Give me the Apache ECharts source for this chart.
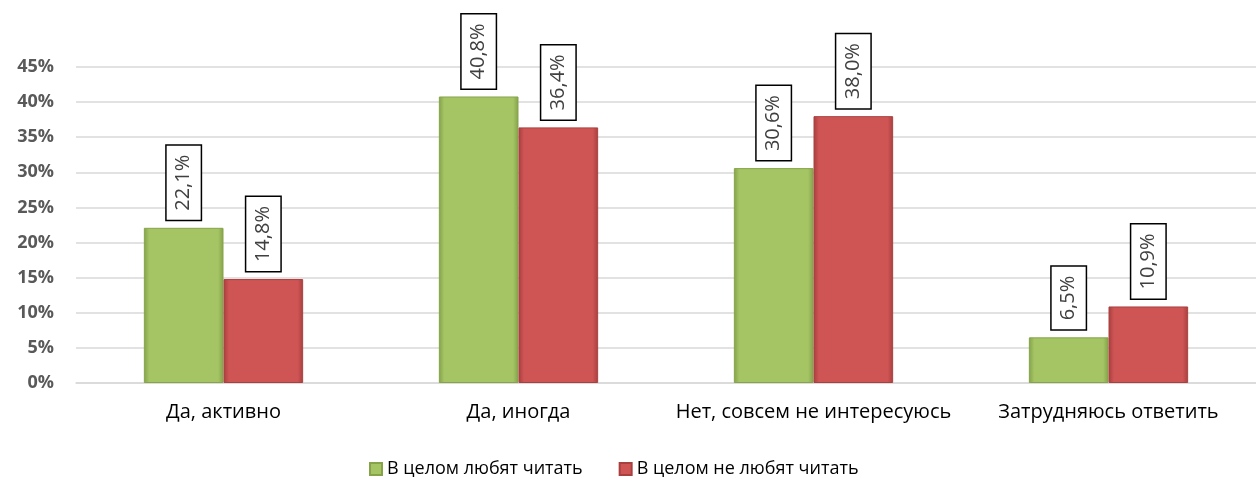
<!DOCTYPE html>
<html><head><meta charset="utf-8">
<script src="https://cdn.jsdelivr.net/npm/echarts@6/dist/echarts.min.js"></script>
<style>html,body{margin:0;padding:0;background:#fff}#c{width:1256px;height:477px}</style>
</head><body><div id="c"></div>
<script>
var categories = ['Да, активно', 'Да, иногда', 'Нет, совсем не интересуюсь', 'Затрудняюсь ответить'];
var seriesNames = ['В целом любят читать', 'В целом не любят читать'];
var likeReading = [22.1, 40.8, 30.6, 6.5];
var dislikeReading = [14.8, 36.4, 38.0, 10.9];
var yTicks = [0, 5, 10, 15, 20, 25, 30, 35, 40, 45];

var FONT = '"Open Sans", "Liberation Sans", sans-serif';
function grad(mid, dark) {
  return new echarts.graphic.LinearGradient(0, 0, 1, 0, [
    {offset: 0, color: dark}, {offset: 0.07, color: mid}, {offset: 0.93, color: mid}, {offset: 1, color: dark}
  ]);
}
function lbl() {
  return {
    show: true, position: 'top', distance: 8, rotate: 90, align: 'left', verticalAlign: 'middle',
    formatter: function (p) { return p.value.toFixed(1).replace('.', ',') + '%'; },
    fontFamily: FONT, fontSize: 20, color: '#404040',
    backgroundColor: '#fff', borderColor: '#000', borderWidth: 1.5, padding: [7, 9, 7, 9]
  };
}
var chart = echarts.init(document.getElementById('c'), null, {renderer: 'canvas'});
chart.setOption({
  animation: false,
  grid: {left: 76, right: 0, top: 67, bottom: 94},
  legend: {
    top: 455, left: 364, itemWidth: 12, itemHeight: 12, itemGap: 36,
    textStyle: {fontFamily: FONT, fontSize: 18, color: '#000'},
    data: [{name: seriesNames[0], icon: 'rect'}, {name: seriesNames[1], icon: 'rect'}]
  },
  xAxis: {
    type: 'category', data: categories,
    axisLine: {lineStyle: {color: '#d9d9d9', width: 1.5}},
    axisTick: {show: false},
    axisLabel: {interval: 0, fontFamily: FONT, fontSize: 20, color: '#000', margin: 19}
  },
  yAxis: {
    type: 'value', min: 0, max: 45, interval: 5,
    axisLine: {show: false}, axisTick: {show: false},
    axisLabel: {fontFamily: FONT, fontSize: 18, fontWeight: 'bold', color: '#595959', margin: 22,
      formatter: function (v) { return yTicks.indexOf(v) >= 0 ? v + '%' : ''; }},
    splitLine: {lineStyle: {color: '#d9d9d9', width: 1.5}}
  },
  series: [
    {name: seriesNames[0], type: 'bar', data: likeReading, barGap: '0%', barCategoryGap: '46%',
      itemStyle: {color: grad('#a5c565', '#84a24a'), borderColor: '#86a34a', borderWidth: 1},
      label: lbl()},
    {name: seriesNames[1], type: 'bar', data: dislikeReading,
      itemStyle: {color: grad('#cf5555', '#a83e3e'), borderColor: '#a84040', borderWidth: 1},
      label: lbl()}
  ]
});
</script></body></html>
